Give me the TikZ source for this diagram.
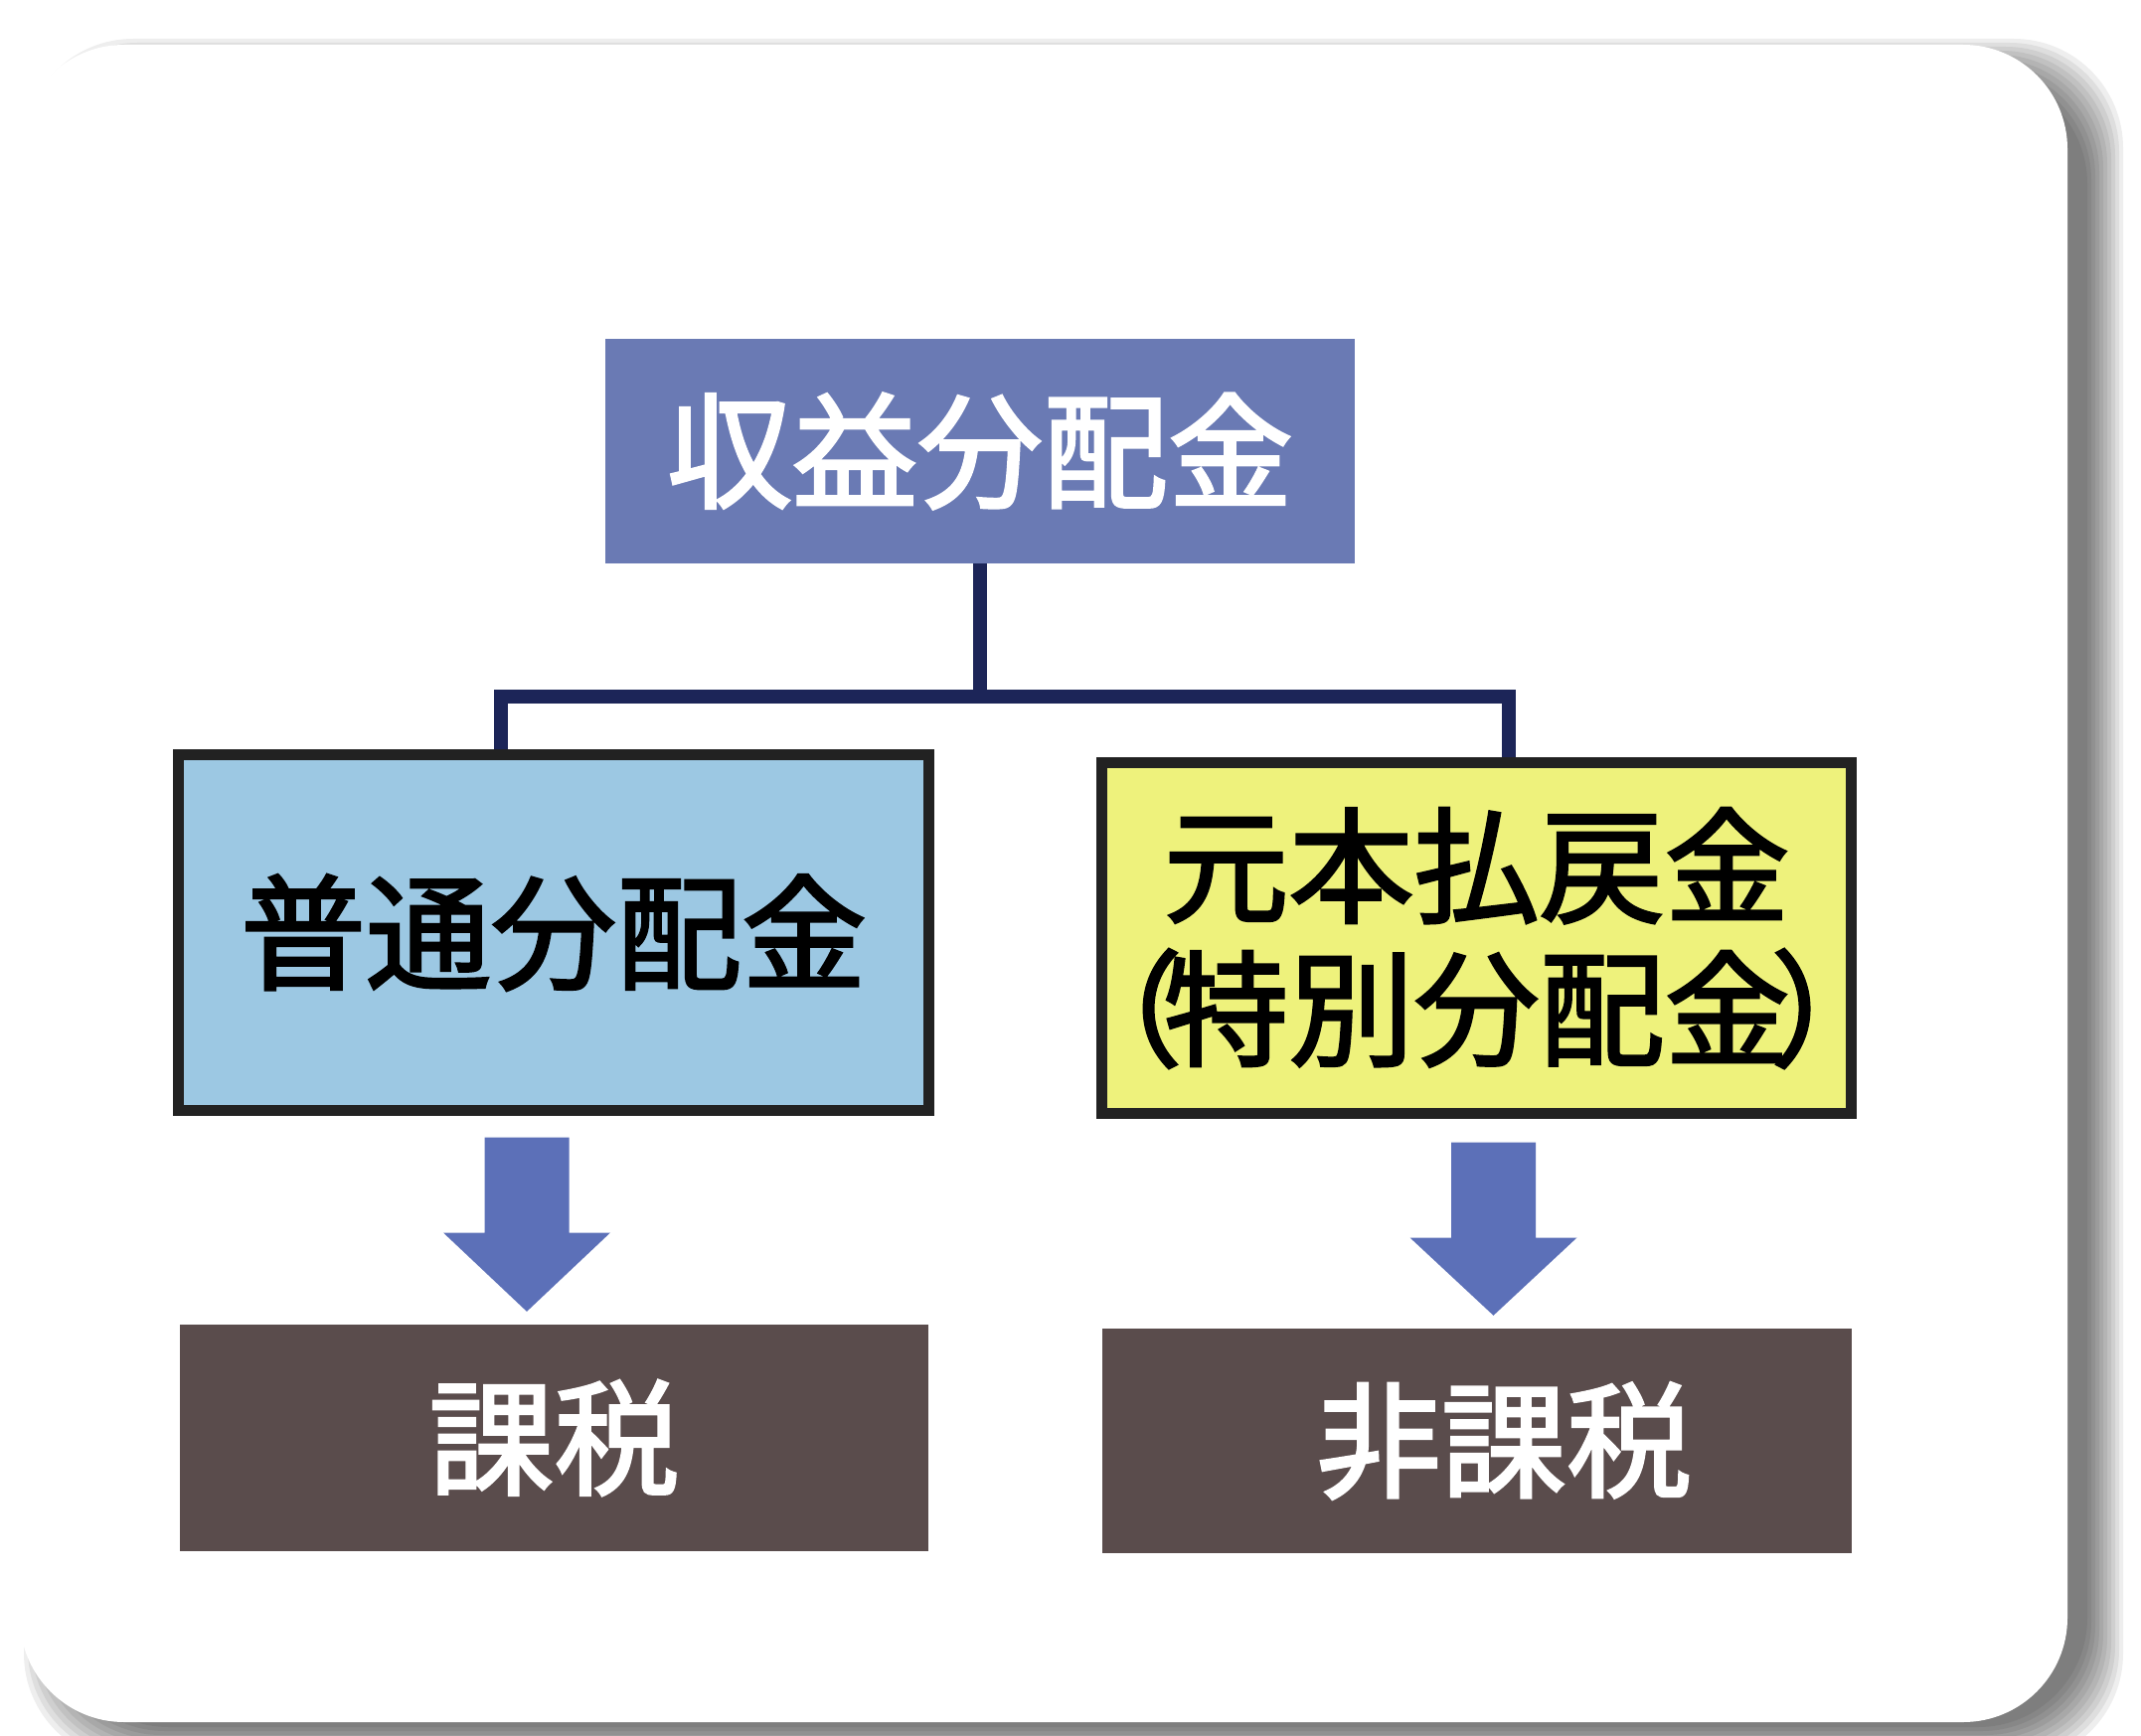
\documentclass[tikz,border=0pt]{standalone}
\usepackage{fontspec}
\newfontfamily\jp{Noto Sans CJK JP}[FakeBold=2.2]
\usetikzlibrary{calc}
\definecolor{topc}{HTML}{6A7AB4}
\definecolor{navy}{HTML}{1C2558}
\definecolor{lblue}{HTML}{9CC8E3}
\definecolor{ylw}{HTML}{EEF27C}
\definecolor{arrc}{HTML}{5C70B8}
\definecolor{brn}{HTML}{5A4C4C}
\definecolor{bord}{HTML}{222222}
\newcommand\downblock[2]{%
  \fill[blockarrow] ($(#1)+(-42.5,0)$) -- ($(#1)+(42.5,0)$) -- ($(#1)+(42.5,96)$)
    -- ($(#1)+(84,96)$) -- (#2) -- ($(#1)+(-84,96)$) -- ($(#1)+(-42.5,96)$) -- cycle;}
\begin{document}
\begin{tikzpicture}[x=1pt,y=-1pt,
  txt/.style={font=\jp\fontsize{126}{144}\selectfont, inner sep=0pt, align=center},
  topbox/.style={txt, fill=topc, text=white, minimum width=754pt, minimum height=226pt},
  midbox/.style={txt, draw=bord, line width=11pt, text=black, minimum width=755pt, minimum height=358pt},
  botbox/.style={txt, fill=brn, text=white, minimum width=753pt, minimum height=228pt},
  conn/.style={draw=navy, line width=14pt, line join=miter},
  blockarrow/.style={fill=arrc}]
% page and card
\fill[white] (0,0) rectangle (2154,1747);
\useasboundingbox (0,0) rectangle (2154,1747);
\foreach \e in {36,32,...,0}
  \fill[black,opacity=0.065,rounded corners=110] (60-\e,75-\e) rectangle (2100+\e,1738+\e);
\fill[white, rounded corners=105] (20,45) rectangle (2080,1733);
% boxes
\node[topbox] (top) at (986,454) {収益分配金};
\node[midbox, fill=lblue] (left) at (557,938.5) {普通分配金};
\node[midbox, fill=ylw, minimum width=754pt, minimum height=353pt] (right) at (1485.5,944)
  {元本払戻金\\\makebox[680pt]{（\kern-0.15em 特別分配金\kern-0.15em）}};
\node[botbox] (bl) at (557.5,1447) {課税};
\node[botbox, minimum width=754pt, minimum height=226pt] (br) at (1486,1450) {\hspace*{54pt}非課税};
% tree connector
\coordinate (jl) at (504,701);
\coordinate (jr) at (1518,701);
\draw[conn] (top.south) -- (top.south |- jl);
\draw[conn] (jl |- left.north) -- (jl) -- (jr) -- (jr |- right.north);
% block arrows
\coordinate (a1s) at ($(left.south)+(-27,21.5)$);
\coordinate (a1e) at ($(a1s |- bl.north)+(0,-13)$);
\coordinate (a2s) at ($(right.south)+(17,23.5)$);
\coordinate (a2e) at ($(a2s |- br.north)+(0,-13)$);
\downblock{a1s}{a1e}
\downblock{a2s}{a2e}
\end{tikzpicture}
\end{document}
